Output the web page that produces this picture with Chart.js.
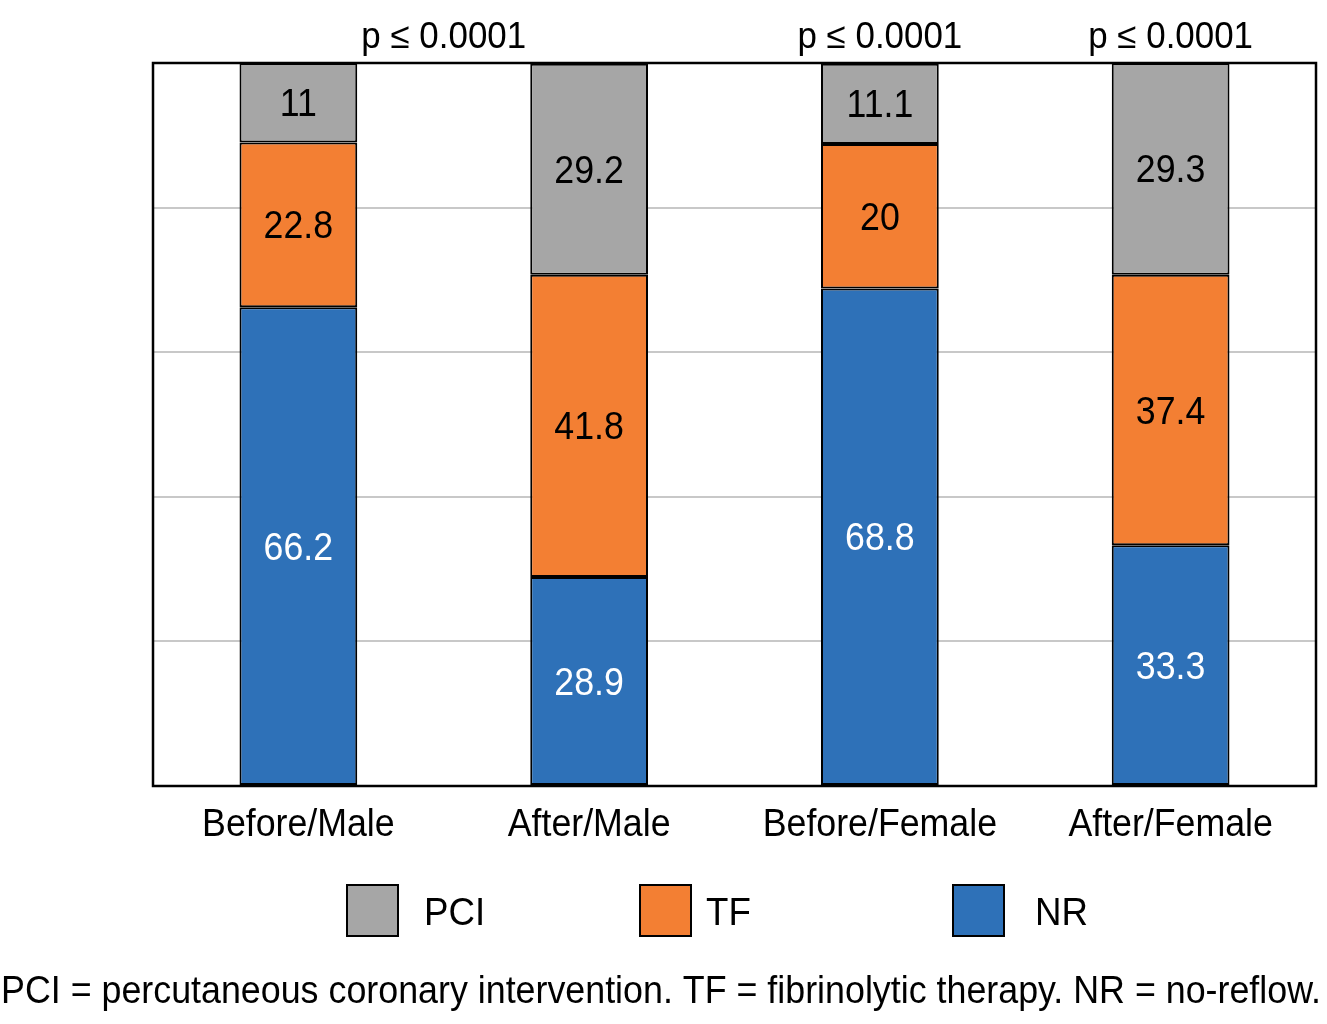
<!DOCTYPE html>
<html>
<head>
<meta charset="utf-8">
<script src="https://cdn.jsdelivr.net/npm/chart.js@4.4.1/dist/chart.umd.min.js"></script>
<style>
  body { margin: 0; background: #fff; }
  canvas { display: block; }
</style>
</head>
<body>
<canvas id="chart" width="1327" height="1024"></canvas>
<script>
const categories = ["Before/Male", "After/Male", "Before/Female", "After/Female"];
const nrValues = [66.2, 28.9, 68.8, 33.3];
const tfValues = [22.8, 41.8, 20, 37.4];
const pciValues = [11, 29.2, 11.1, 29.3];
// p-value notes: position along the category axis and text
const pNotePos = [0.5, 2, 3];
const pNoteText = ["p \u2264 0.0001", "p \u2264 0.0001", "p \u2264 0.0001"];
const footnote = "PCI = percutaneous coronary intervention. TF = fibrinolytic therapy. NR = no-reflow.";

const FONT = "'Liberation Sans', Arial, sans-serif";
const NARROW = 0.94; // horizontal squeeze to mimic the condensed face
const colors = { NR: "#2e71b8", TF: "#f37f33", PCI: "#a6a6a6" };

// text drawn with a horizontal squeeze
function narrowText(ctx, text, x, y, size, align, sx) {
  ctx.save();
  ctx.font = size + "px " + FONT;
  ctx.textBaseline = "alphabetic";
  ctx.textAlign = align;
  ctx.translate(x, y);
  ctx.scale(sx || NARROW, 1);
  ctx.fillText(text, 0, 0);
  ctx.restore();
}

// numbers inside each bar segment
const segmentLabels = {
  id: "segmentLabels",
  afterDatasetsDraw(chart) {
    const ctx = chart.ctx;
    chart.data.datasets.forEach((ds, di) => {
      const meta = chart.getDatasetMeta(di);
      meta.data.forEach((bar, i) => {
        ctx.fillStyle = ds.label === "NR" ? "#ffffff" : "#000000";
        narrowText(ctx, String(ds.data[i]), bar.x, (bar.y + bar.base) / 2 + 13.5, 38, "center");
      });
    });
  }
};

// frame, category labels, p-values, legend and footnote
const extras = {
  id: "extras",
  afterDraw(chart) {
    const ctx = chart.ctx;
    const a = chart.chartArea;
    const xs = chart.scales.x;
    ctx.save();
    ctx.strokeStyle = "#000";
    ctx.lineWidth = 2.5;
    ctx.strokeRect(a.left, a.top, a.right - a.left, a.bottom - a.top);

    ctx.fillStyle = "#000";
    categories.forEach((c, i) => {
      narrowText(ctx, c, xs.getPixelForValue(i), a.bottom + 50, 38, "center");
    });
    pNotePos.forEach((p, i) => {
      narrowText(ctx, pNoteText[i], xs.getPixelForValue(p), 48, 36, "center", 0.97);
    });

    // legend
    const legendItems = [
      { name: "PCI", box: 347, text: 424 },
      { name: "TF", box: 640, text: 706 },
      { name: "NR", box: 953, text: 1035 }
    ];
    legendItems.forEach(it => {
      ctx.fillStyle = colors[it.name];
      ctx.fillRect(it.box, 885, 51, 51);
      ctx.lineWidth = 2;
      ctx.strokeStyle = "#000";
      ctx.strokeRect(it.box, 885, 51, 51);
      ctx.fillStyle = "#000";
      narrowText(ctx, it.name, it.text, 925, 39, "left");
    });

    // footnote stretched to the page width
    ctx.font = "38px " + FONT;
    const w = ctx.measureText(footnote).width;
    narrowText(ctx, footnote, 1, 1003, 38, "left", 1320 / w);
    ctx.restore();
  }
};

new Chart(document.getElementById("chart"), {
  type: "bar",
  data: {
    labels: categories,
    datasets: [
      { label: "NR", data: nrValues, backgroundColor: colors.NR },
      { label: "TF", data: tfValues, backgroundColor: colors.TF },
      { label: "PCI", data: pciValues, backgroundColor: colors.PCI }
    ].map(d => Object.assign(d, { borderColor: "#000", borderWidth: 2, borderSkipped: false }))
  },
  options: {
    responsive: false,
    devicePixelRatio: 1,
    animation: false,
    categoryPercentage: 1,
    barPercentage: 0.405,
    layout: { padding: { top: 63, left: 153, right: 11, bottom: 230 } },
    scales: {
      x: {
        stacked: true,
        grid: { display: false },
        border: { display: false },
        ticks: { display: false }
      },
      y: {
        stacked: true,
        min: 0,
        max: 100,
        ticks: { display: false, stepSize: 20 },
        grid: { color: "#c8c8c8", lineWidth: 2, drawTicks: false },
        border: { display: false }
      }
    },
    plugins: {
      legend: { display: false },
      tooltip: { enabled: false }
    }
  },
  plugins: [segmentLabels, extras]
});
</script>
</body>
</html>
